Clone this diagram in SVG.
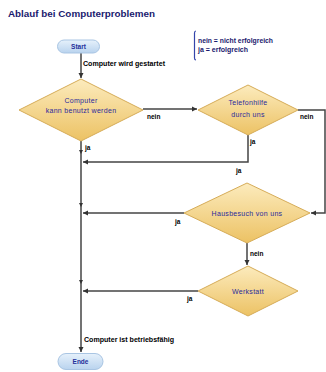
<svg xmlns="http://www.w3.org/2000/svg" width="326" height="372" viewBox="0 0 326 372">
<defs>
<linearGradient id="gD" x1="0" y1="0" x2="0" y2="1"><stop offset="0" stop-color="#fcebbd"/><stop offset="1" stop-color="#ecc264"/></linearGradient>
<linearGradient id="gP" x1="0" y1="0" x2="0" y2="1"><stop offset="0" stop-color="#e6f1fb"/><stop offset="1" stop-color="#b9d3ee"/></linearGradient>
<marker id="arr" markerWidth="6" markerHeight="6" refX="5" refY="3" orient="auto" markerUnits="userSpaceOnUse"><path d="M0,0.5 L5,3 L0,5.5 Z" fill="#333"/></marker>
<style>
.dia{fill:url(#gD);stroke:#d6ac58;stroke-width:1}
.pill{fill:url(#gP);stroke:#a9c5e3;stroke-width:1}
.dt{font-family:"Liberation Sans",Arial,sans-serif;font-size:7px;fill:#2a2a9c;text-anchor:middle;letter-spacing:0.3px}
.pt{font-family:"Liberation Sans",Arial,sans-serif;font-size:6.5px;font-weight:bold;fill:#1f2f9a;text-anchor:middle}
.lb{font-family:"Liberation Sans",Arial,sans-serif;font-size:6.5px;font-weight:bold;fill:#000}
.ln{fill:none;stroke:#444;stroke-width:1.5}
.tk{fill:#333}
</style>
</defs>
<g id="title"><text x="8" y="17" font-family="Liberation Sans,Arial,sans-serif" font-size="9" font-weight="bold" fill="#1a1a6e" textLength="147" lengthAdjust="spacingAndGlyphs">Ablauf bei Computerproblemen</text></g>
<g id="legend">
<path d="M196,31 Q194.5,31 194.5,33 L194.5,58 Q194.5,60 196,60" fill="none" stroke="#3344aa" stroke-width="1.2"/>
<text class="lb" x="198" y="42.5" fill="#1a1a6e" textLength="75" lengthAdjust="spacingAndGlyphs" style="fill:#1a1a6e">nein = nicht erfolgreich</text>
<text class="lb" x="198" y="52" textLength="50" lengthAdjust="spacingAndGlyphs" style="fill:#1a1a6e">ja = erfolgreich</text>
</g>
<g id="connectors">
<path class="ln" d="M81,53 V78" marker-end="url(#arr)"/>
<path class="ln" d="M143,109 H197" marker-end="url(#arr)"/>
<path class="ln" d="M298,110 H325 V213 H311" marker-end="url(#arr)"/>
<path class="ln" d="M248,135 V162 H83" marker-end="url(#arr)"/>
<path class="ln" d="M81,141 V352" marker-end="url(#arr)"/>
<path class="ln" d="M184,213 H83" marker-end="url(#arr)"/>
<path class="ln" d="M247,243 V265" marker-end="url(#arr)"/>
<path class="ln" d="M198,291 H83" marker-end="url(#arr)"/>
<path class="tk" d="M79,150 L83,150 L81,154 Z"/>
<path class="tk" d="M79,203 L83,203 L81,207 Z"/>
<path class="tk" d="M79,280 L83,280 L81,284 Z"/>
<text class="lb" x="83" y="65.5" textLength="82" lengthAdjust="spacingAndGlyphs">Computer wird gestartet</text>
<text class="lb" x="147" y="119">nein</text>
<text class="lb" x="300" y="119">nein</text>
<text class="lb" x="85" y="149.5">ja</text>
<text class="lb" x="250" y="143.5">ja</text>
<text class="lb" x="236" y="172.5">ja</text>
<text class="lb" x="175" y="223.5">ja</text>
<text class="lb" x="250" y="255.5">nein</text>
<text class="lb" x="187" y="300.5">ja</text>
<text class="lb" x="84" y="341.5" textLength="90" lengthAdjust="spacingAndGlyphs">Computer ist betriebsfähig</text>
</g>
<g id="start"><rect class="pill" x="57.5" y="40" width="42" height="13" rx="6.5"/><text class="pt" x="78.5" y="48.8">Start</text></g>
<g id="d1"><polygon class="dia" points="81,79 143,110 81,141 19,110"/><text class="dt" x="81" y="102.5">Computer</text><text class="dt" x="81" y="112.5">kann benutzt werden</text></g>
<g id="d2"><polygon class="dia" points="248,85 298,110 248,135 198,110"/><text class="dt" x="248" y="105">Telefonhilfe</text><text class="dt" x="248" y="117">durch uns</text></g>
<g id="d3"><polygon class="dia" points="247,183 310,213 247,243 184,213"/><text class="dt" x="247" y="215.5">Hausbesuch von uns</text></g>
<g id="d4"><polygon class="dia" points="248,266 298,291 248,316 198,291"/><text class="dt" x="248" y="293.5">Werkstatt</text></g>
<g id="end"><rect class="pill" x="58" y="353.5" width="45" height="16" rx="8"/><text class="pt" x="80.5" y="363.8">Ende</text></g>
</svg>
